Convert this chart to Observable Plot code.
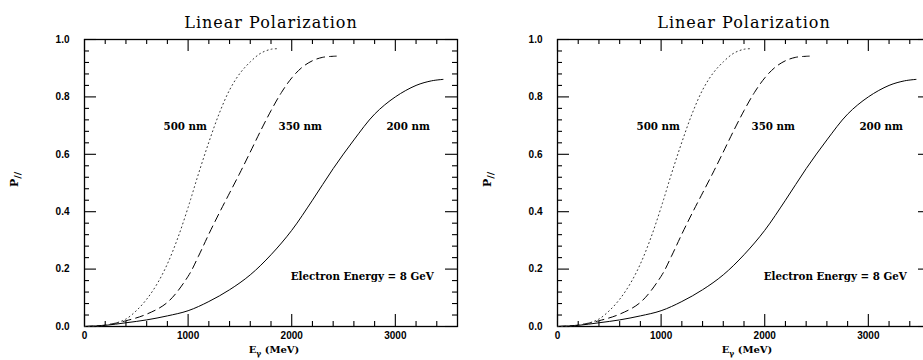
<!DOCTYPE html>
<html><head><meta charset="utf-8">
<script src="https://cdn.jsdelivr.net/npm/d3@7"></script>
<script src="https://cdn.jsdelivr.net/npm/@observablehq/plot@0.6"></script>
<style>
html,body{margin:0;padding:0;background:#fff;}
#wrap{width:923px;height:360px;overflow:hidden;display:flex;}
#wrap > div{flex:0 0 473px;width:473px;height:360px;}
svg{display:block;}
</style></head><body><div id="wrap"><div id="p1"></div><div id="p2"></div></div>
<script>
// ---- data ----
const title = "Linear Polarization";
const xLabel = "Eγ (MeV)";
const yLabel = "P//";
const note = "Electron Energy = 8 GeV";

const xTickValues = [0, 1000, 2000, 3000];
const yTickValues = [0, 0.2, 0.4, 0.6, 0.8, 1.0];

// 200 nm (solid)
const e200 = [0, 200, 400, 600, 800, 1000, 1200, 1400, 1600, 1800, 2000, 2200, 2400, 2600, 2800, 3000, 3200, 3350, 3460];
const p200 = [0, 0.004, 0.013, 0.023, 0.037, 0.055, 0.087, 0.128, 0.18, 0.25, 0.335, 0.44, 0.55, 0.65, 0.74, 0.80, 0.84, 0.856, 0.861];
// 350 nm (dashed)
const e350 = [0, 200, 400, 600, 800, 1000, 1100, 1200, 1300, 1400, 1500, 1600, 1700, 1800, 1900, 2000, 2100, 2200, 2300, 2430];
const p350 = [0, 0.005, 0.02, 0.043, 0.084, 0.175, 0.245, 0.322, 0.395, 0.465, 0.535, 0.608, 0.682, 0.752, 0.815, 0.866, 0.903, 0.926, 0.938, 0.942];
// 500 nm (dotted)
const e500 = [0, 150, 300, 400, 500, 600, 700, 800, 900, 1000, 1100, 1200, 1300, 1400, 1500, 1600, 1700, 1800, 1870];
const p500 = [0, 0.002, 0.012, 0.026, 0.055, 0.095, 0.148, 0.218, 0.308, 0.415, 0.532, 0.642, 0.742, 0.824, 0.882, 0.922, 0.952, 0.966, 0.968];

const curveNames = ["500 nm", "350 nm", "200 nm"];
const curveLabelX = [972, 2082, 3124];
const curveLabelY = [0.697, 0.697, 0.697];
const noteX = 2681, noteY = 0.174;

// ---- build ----
const toRows = (E, P) => E.map((e, i) => ({e, p: P[i]}));
const s200 = toRows(e200, p200), s350 = toRows(e350, p350), s500 = toRows(e500, p500);
const xMinor = d3.range(200, 3600, 200).filter(d => d % 1000 !== 0);
const yMinor = d3.range(0.04, 1.0, 0.04).filter(d => Math.abs(d / 0.2 - Math.round(d / 0.2)) > 1e-6);
const labelRows = curveNames.map((t, i) => ({t, x: curveLabelX[i], y: curveLabelY[i]}));

function makePanel() {
  const W = 473, H = 360, mL = 84, mR = 16, mT = 39, mB = 34;
  const pw = W - mL - mR, ph = H - mT - mB;
  const MAJ = 12, MIN = 5;
  const tickStyle = {stroke: "#000", strokeWidth: 1.1};
  const svg = Plot.plot({
    width: W, height: H, marginLeft: mL, marginRight: mR, marginTop: mT, marginBottom: mB,
    style: {background: "#fff", color: "#000", overflow: "visible"},
    x: {domain: [0, 3600]},
    y: {domain: [0, 1]},
    marks: [
      // inward ticks on all four sides
      Plot.tickX(xTickValues, {x: d => d, insetTop: ph - MAJ, ...tickStyle}),
      Plot.tickX(xMinor, {x: d => d, insetTop: ph - MIN, ...tickStyle}),
      Plot.tickX(xTickValues, {x: d => d, insetBottom: ph - MAJ, ...tickStyle}),
      Plot.tickX(xMinor, {x: d => d, insetBottom: ph - MIN, ...tickStyle}),
      Plot.tickY(yTickValues, {y: d => d, insetRight: pw - MAJ, ...tickStyle}),
      Plot.tickY(yMinor, {y: d => d, insetRight: pw - MIN, ...tickStyle}),
      Plot.tickY(yTickValues, {y: d => d, insetLeft: pw - MAJ, ...tickStyle}),
      Plot.tickY(yMinor, {y: d => d, insetLeft: pw - MIN, ...tickStyle}),
      Plot.frame({stroke: "#000", strokeWidth: 1.3}),
      Plot.axisX({ticks: xTickValues, tickSize: 0, tickPadding: 5, tickFormat: d => String(d),
        fontSize: 10, fontWeight: "bold", fontFamily: "Liberation Sans", label: null}),
      Plot.axisY({ticks: yTickValues, tickSize: 0, tickPadding: 15, tickFormat: d3.format(".1f"),
        fontSize: 10, fontWeight: "bold", fontFamily: "Liberation Sans", label: null}),
      Plot.line(s200, {x: "e", y: "p", stroke: "#000", strokeWidth: 1, curve: "catmull-rom"}),
      Plot.line(s350, {x: "e", y: "p", stroke: "#000", strokeWidth: 1, strokeDasharray: "8,5", curve: "catmull-rom"}),
      Plot.line(s500, {x: "e", y: "p", stroke: "#333", strokeWidth: 1, strokeDasharray: "1,3.2", curve: "catmull-rom"}),
      Plot.text(labelRows, {x: "x", y: "y", text: "t", fontFamily: "DejaVu Serif", fontWeight: "bold", fontSize: 10.3, fill: "#000"}),
      Plot.text([note], {x: () => noteX, y: () => noteY, text: d => d, fontFamily: "DejaVu Serif", fontWeight: "bold", fontSize: 10.3, fill: "#000"}),
      Plot.text([title], {frameAnchor: "top", dy: -23, text: d => d, fontFamily: "DejaVu Serif", fontSize: 16, fill: "#000"}),
      Plot.text([xLabel], {frameAnchor: "bottom", dy: 26, dx: 3, text: d => d, fontFamily: "DejaVu Serif", fontWeight: "bold", fontSize: 10, fill: "#000"}),
      Plot.text([yLabel], {frameAnchor: "left", dx: -70, dy: 4, rotate: -90, text: d => d, fontFamily: "DejaVu Serif", fontWeight: "bold", fontSize: 11, fill: "#000"})
    ]
  });
  // subscripts and letter spacing
  d3.select(svg).selectAll("text").each(function() {
    const t = this.textContent;
    if (t === xLabel) {
      this.innerHTML = 'E<tspan dy="3" font-size="7.5">γ</tspan><tspan dy="-3"> (MeV)</tspan>';
    } else if (t === yLabel) {
      this.innerHTML = 'P<tspan dy="3" font-size="9.5">//</tspan>';
    } else if (t === title) {
      this.setAttribute("letter-spacing", "1");
    }
  });
  return svg;
}
document.getElementById("p1").append(makePanel());
document.getElementById("p2").append(makePanel());
</script></body></html>
